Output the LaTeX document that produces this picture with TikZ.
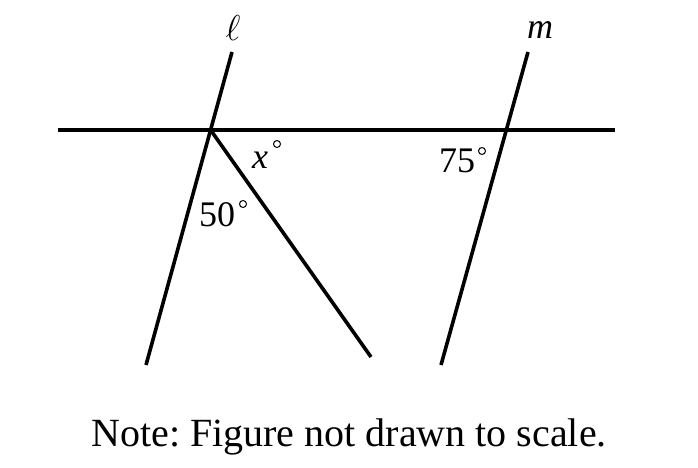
\documentclass[tikz,border=0pt]{standalone}
\usepackage{fix-cm}
\usepackage{fontspec}
\setmainfont{Liberation Serif}
\frenchspacing
\begin{document}
\begin{tikzpicture}[x=1pt,y=-1pt,
  ln/.style={line width=3.6pt,line cap=butt},
  lbl/.style={font=\fontsize{36}{40}\selectfont,inner sep=0pt},
  deg/.style={circle,draw,line width=1pt,inner sep=0pt,minimum size=7pt}]
\useasboundingbox (0,0) rectangle (698,468);
% points
\coordinate (hL) at (58,130);
\coordinate (hR) at (615,130);
\coordinate (lT) at (232,52);
\coordinate (lB) at (146,365);
\coordinate (mT) at (528,52);
\coordinate (mB) at (441,365);
\coordinate (P) at (210.6,130);
\coordinate (tB) at (371,357);
% lines
\draw[ln] (hL) -- (hR);
\draw[ln] (lT) -- (lB);
\draw[ln] (mT) -- (mB);
\draw[ln] (P) -- (tB);
% labels
\node[lbl] (ell) at (233,28) {$\ell$};
\node[lbl] (em) at (540,30) {\itshape m};
\node[lbl,anchor=west] (xd) at (252,160) {\itshape x};
\node[deg] (xdeg) at (277,144) {};
\node[lbl,anchor=west] (fifty) at (199,215) {50};
\node[deg] (fiftydeg) at (243,204) {};
\node[lbl,anchor=west] (seventyfive) at (439,161) {75};
\node[deg] (seventyfivedeg) at (482,151) {};
\node[lbl,font=\fontsize{40}{44}\selectfont] (note) at (349,437) {Note: Figure not drawn to scale.};
\end{tikzpicture}
\end{document}
